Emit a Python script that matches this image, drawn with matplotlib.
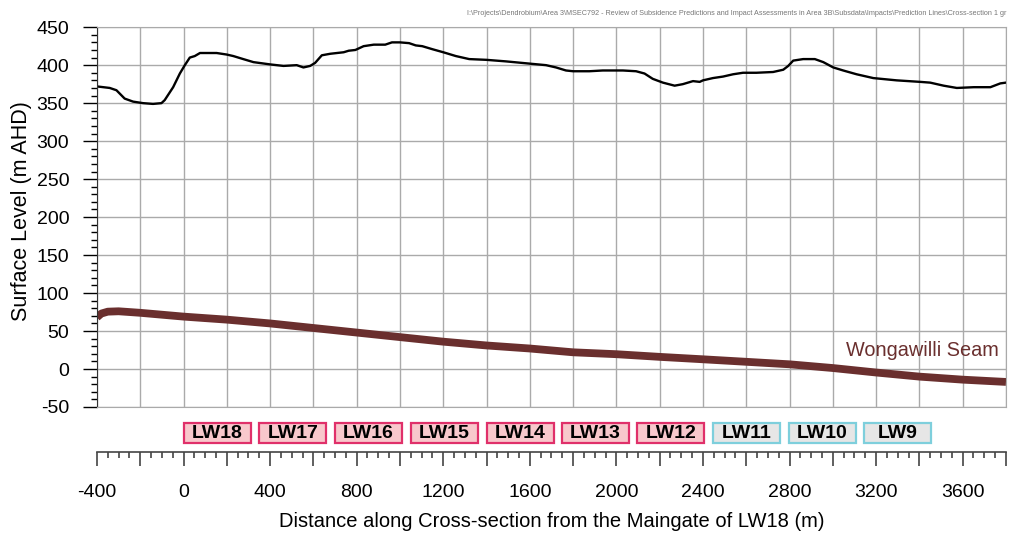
import matplotlib.pyplot as plt
from matplotlib.patches import Rectangle
from matplotlib.ticker import MultipleLocator
import matplotlib.transforms as mtransforms

plt.rcParams['font.family'] = ['Liberation Sans', 'DejaVu Sans']
plt.rcParams['axes.unicode_minus'] = False

# surface profile along the cross-section (m, m AHD)
surf_x = [-400, -341, -310, -272, -233, -187, -141, -102, -87, -48, -17, 6, 29, 52, 76,
          153, 199, 230, 276, 323, 400, 462, 523, 554, 585, 608, 639, 678, 740, 763, 794,
          832, 879, 932, 963, 1000, 1042, 1073, 1103, 1150, 1200, 1258, 1320, 1400, 1489,
          1600, 1675, 1721, 1767, 1800, 1875, 1937, 2030, 2091, 2130, 2168, 2215, 2269,
          2307, 2354, 2385, 2400, 2446, 2493, 2539, 2585, 2647, 2724, 2771, 2794, 2817,
          2863, 2917, 2956, 3002, 3048, 3110, 3187, 3295, 3404, 3450, 3512, 3573, 3651,
          3728, 3774, 3800]
surf_z = [372, 370, 367, 356, 352, 350, 349, 350, 354, 371, 389, 400, 410, 412, 416,
          416, 414, 412, 408, 404, 401, 399, 400, 397, 399, 403, 413, 415, 417, 419, 420,
          425, 427, 427, 430, 430, 429, 426, 425, 421, 417, 412, 408, 407, 405,
          402, 400, 397, 393, 392, 392, 393, 393, 392, 389, 382, 377, 373,
          375, 379, 378, 380, 383, 385, 388, 390, 390, 391, 394, 399, 406,
          408, 408, 404, 397, 393, 388, 383, 380, 378, 377, 373, 370, 371,
          371, 376, 377]

# Wongawilli Seam floor level
seam_x = [-400, -380, -350, -300, -200, 0, 200, 400, 600, 800, 1000, 1200, 1400, 1600,
          1800, 2000, 2200, 2400, 2600, 2800, 3000, 3200, 3400, 3600, 3800]
seam_z = [68, 73, 75.5, 76, 74, 69, 65, 60, 54, 48, 42, 36, 31, 27,
          22, 19.5, 16, 12.8, 9.5, 6.2, 1.3, -4.6, -10, -14, -17]

# longwall panels
lw_names = ['LW18', 'LW17', 'LW16', 'LW15', 'LW14', 'LW13', 'LW12', 'LW11', 'LW10', 'LW9']
lw_start = [0, 350, 700, 1050, 1400, 1747, 2097, 2447, 2797, 3145]
lw_width = 310
lw_mined = [True, True, True, True, True, True, True, False, False, False]

seam_col = '#6a2f2e'

fig = plt.figure(figsize=(10.1, 5.33), dpi=100)
ax = fig.add_axes([0.096, 0.2364, 0.9, 0.7126])

ax.plot(surf_x, surf_z, color='black', lw=1.7)
ax.plot(seam_x, seam_z, color=seam_col, lw=5.6, solid_capstyle='butt')
ax.text(3765, 24, 'Wongawilli Seam', color=seam_col, fontsize=14.3, ha='right', va='center')

ax.set_xlim(-400, 3800)
ax.set_ylim(-50, 450)
ax.xaxis.set_major_locator(MultipleLocator(200))
ax.yaxis.set_major_locator(MultipleLocator(50))
ax.yaxis.set_minor_locator(MultipleLocator(10))
ax.grid(True, color='#aaaaaa', lw=1)
ax.set_axisbelow(True)
ax.tick_params(axis='x', length=0, labelbottom=False)
ax.tick_params(axis='y', which='major', length=10, width=1, pad=10, labelsize=14)
ax.tick_params(axis='y', which='minor', length=4.5, width=1)
for side in ['top', 'right', 'bottom']:
    ax.spines[side].set_color('#aaaaaa')
ax.spines['left'].set_color('#333333')
ax.set_ylabel('Surface Level (m AHD)', fontsize=15.5)
ax.yaxis.set_label_coords(-0.072, 0.515)

# separate distance axis below the panel labels
ax2 = fig.add_axes([0.096, 0.152, 0.9, 0.0001])
ax2.set_xlim(-400, 3800)
ax2.set_yticks([])
for side in ['top', 'right', 'left']:
    ax2.spines[side].set_visible(False)
ax2.spines['bottom'].set_color('#444444')
ax2.spines['bottom'].set_linewidth(1.2)
ax2.set_xticks(range(-400, 3801, 200))
ax2.set_xticklabels([str(t) if t % 400 == 0 else '' for t in range(-400, 3801, 200)])
ax2.xaxis.set_minor_locator(MultipleLocator(50))
ax2.tick_params(axis='x', which='major', length=10, width=1.2, color='#444444',
                pad=13, labelsize=14)
ax2.tick_params(axis='x', which='minor', length=4.5, width=1.2, color='#444444')
ax2.set_xlabel('Distance along Cross-section from the Maingate of LW18 (m)',
               fontsize=14.5, labelpad=8)

# panel name boxes
trans = mtransforms.blended_transform_factory(ax.transData, fig.transFigure)
for name, x0, mined in zip(lw_names, lw_start, lw_mined):
    fc, ec = ('#f8c8cc', '#e0306a') if mined else ('#e6e6e6', '#7ecfdc')
    ax.add_patch(Rectangle((x0, 0.1683), lw_width, 0.0386, transform=trans,
                           facecolor=fc, edgecolor=ec, lw=1.6, clip_on=False))
    ax.text(x0 + lw_width / 2, 0.1866, name, transform=trans, ha='center',
            va='center', fontsize=14, fontweight='bold')

fig.text(0.997, 0.975, 'I:\\Projects\\Dendrobium\\Area 3\\MSEC792 - Review of Subsidence '
         'Predictions and Impact Assessments in Area 3B\\Subsdata\\Impacts\\Prediction '
         'Lines\\Cross-section 1 gr', fontsize=5.2, color='#777777', ha='right', va='center')

fig.savefig('out.png', dpi=100)
